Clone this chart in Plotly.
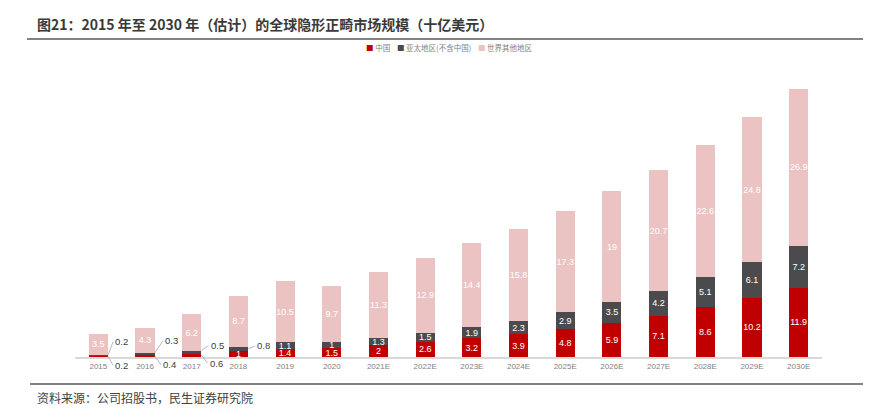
import plotly.graph_objects as go

years = ["2015", "2016", "2017", "2018", "2019", "2020", "2021E", "2022E", "2023E",
         "2024E", "2025E", "2026E", "2027E", "2028E", "2029E", "2030E"]
series_names = ["中国", "亚太地区(不含中国)", "世界其他地区"]
china = [0.2, 0.4, 0.6, 1, 1.4, 1.5, 2, 2.6, 3.2, 3.9, 4.8, 5.9, 7.1, 8.6, 10.2, 11.9]
apac = [0.2, 0.3, 0.5, 0.8, 1.1, 1, 1.3, 1.5, 1.9, 2.3, 2.9, 3.5, 4.2, 5.1, 6.1, 7.2]
rest = [3.5, 4.3, 6.2, 8.7, 10.5, 9.7, 11.3, 12.9, 14.4, 15.8, 17.3, 19, 20.7, 22.6, 24.8, 26.9]

colors = ["#C00000", "#4B4B4D", "#EBC3C3"]
W, H = 871, 410
OFF = 8  # page body margin offset
L, R, T, B = 75 - OFF, 49 + OFF, 70 - OFF, 53 + OFF
pw, ph = W - L - R, H - T - B
YMAX = 49.2


def px_x(px):
    return (px - OFF - L) / pw


def px_y(py):
    return (H - B - (py - OFF)) / ph


def fmt(v):
    return ("%g" % v)


CJK = "Noto Sans CJK SC"
NUM = "Liberation Sans, Arial, sans-serif"

fig = go.Figure()
for name, vals, col in zip(series_names, [china, apac, rest], colors):
    txt = [fmt(v) if v >= 1 else "" for v in vals]
    fig.add_trace(go.Bar(
        x=years, y=vals, name=name, marker=dict(color=col, line=dict(width=0)),
        text=txt, textposition="inside", insidetextanchor="middle", textangle=0,
        textfont=dict(size=9, color="#FFFFFF", family=NUM),
        showlegend=False, hoverinfo="skip",
    ))

annotations = []
half = 0.21
# outside labels with leader lines for small segments
small = [
    # (index, value, y point, ax, ay)
    (0, apac[0], china[0] + apac[0], 5, -13),
    (0, china[0], 0.1, 5, 9),
    (1, apac[1], china[1] + apac[1], 8, -12),
    (1, china[1], 0.2, 6, 9),
    (2, apac[2], china[2] + apac[2], 7, -5),
    (2, china[2], 0.3, 6, 8),
    (3, apac[3], china[3] + apac[3] / 2, 7, -3),
]
for idx, val, yp, ax, ay in small:
    annotations.append(dict(
        x=idx + half, y=yp, xref="x", yref="y", text=fmt(val),
        showarrow=True, arrowhead=0, arrowwidth=0.8, arrowcolor="#A6A6A6",
        ax=ax, ay=ay, font=dict(size=9.5, color="#404040", family=NUM),
        xanchor="left", yanchor="middle",
    ))

# legend built as text
leg = "    ".join(
    '<span style="color:%s">■</span> <span style="color:#7F7F7F">%s</span>' % (c, n)
    for n, c in zip(series_names, colors))
annotations.append(dict(
    x=px_x(449), y=px_y(47), xref="paper", yref="paper", text=leg, showarrow=False,
    xanchor="center", yanchor="middle", font=dict(size=7.5, family=CJK, color="#7F7F7F"),
))

# title
annotations.append(dict(
    x=px_x(35), y=px_y(24), xref="paper", yref="paper",
    text="<b>图21：2015 年至 2030 年（估计）的全球隐形正畸市场规模（十亿美元）</b>",
    showarrow=False, xanchor="left", yanchor="middle",
    font=dict(size=14, family=CJK, color="#3A3A3A"),
))
# source
annotations.append(dict(
    x=px_x(35), y=px_y(397), xref="paper", yref="paper",
    text="资料来源：公司招股书，民生证券研究院",
    showarrow=False, xanchor="left", yanchor="middle",
    font=dict(size=12, family=CJK, color="#404040"),
))

shapes = [
    dict(type="line", xref="paper", yref="paper", x0=px_x(27), x1=px_x(871),
         y0=px_y(39), y1=px_y(39), line=dict(color="#595959", width=1.5)),
    dict(type="line", xref="paper", yref="paper", x0=px_x(30), x1=px_x(871),
         y0=px_y(384), y1=px_y(384), line=dict(color="#595959", width=1.5)),
]

fig.update_layout(
    width=W, height=H, barmode="stack", bargap=0.59,
    margin=dict(l=L, r=R, t=T, b=B, pad=0),
    plot_bgcolor="white", paper_bgcolor="white",
    annotations=annotations, shapes=shapes,
    uniformtext=dict(mode="show", minsize=9),
    xaxis=dict(type="category", showline=True, linecolor="#D9D9D9", linewidth=2,
               ticks="", showgrid=False, zeroline=False,
               tickfont=dict(size=8, color="#7F7F7F", family=NUM)),
    yaxis=dict(range=[0, YMAX], visible=False, showgrid=False, zeroline=False),
)

fig.write_html("out.html")
